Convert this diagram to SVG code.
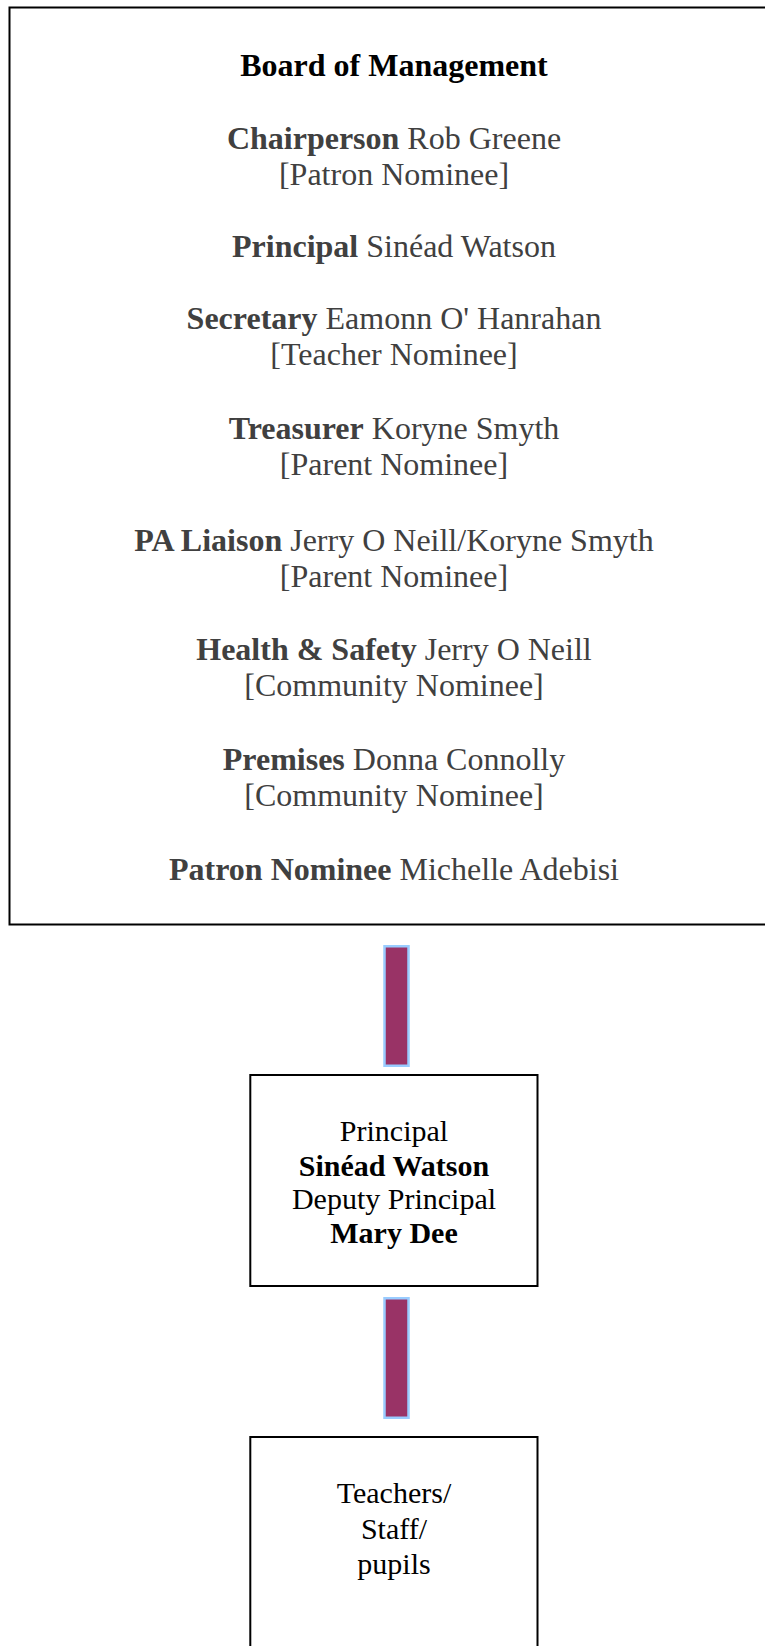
<svg xmlns="http://www.w3.org/2000/svg" width="765" height="1646" viewBox="0 0 765 1646">
<style>
.box{fill:#ffffff;stroke:#000000;stroke-width:2}
.bar{fill:#993366;stroke:#99ccff;stroke-width:2.5}
text{font-family:"Liberation Serif","Times New Roman",serif;font-size:32px;text-anchor:middle}
.s{font-size:30px}
.g{fill:#404040}
.k{fill:#000000}
.b{font-weight:bold}
</style>
<rect width="765" height="1646" fill="#ffffff"/>
<g id="board">
<rect class="box" x="9.5" y="7.5" width="780" height="917"/>
<text class="k b" x="394" y="75.5">Board of Management</text>
<text class="g" x="394" y="148.5"><tspan class="b">Chairperson</tspan> Rob Greene</text>
<text class="g" x="394" y="184.5">[Patron Nominee]</text>
<text class="g" x="394" y="256.5"><tspan class="b">Principal</tspan> Sinéad Watson</text>
<text class="g" x="394" y="329"><tspan class="b">Secretary</tspan> Eamonn O' Hanrahan</text>
<text class="g" x="394" y="365">[Teacher Nominee]</text>
<text class="g" x="394" y="438.5"><tspan class="b">Treasurer</tspan> Koryne Smyth</text>
<text class="g" x="394" y="474.5">[Parent Nominee]</text>
<text class="g" x="394" y="550.5"><tspan class="b">PA Liaison</tspan> Jerry O Neill/Koryne Smyth</text>
<text class="g" x="394" y="586.5">[Parent Nominee]</text>
<text class="g" x="394" y="660"><tspan class="b">Health &amp; Safety</tspan> Jerry O Neill</text>
<text class="g" x="394" y="696">[Community Nominee]</text>
<text class="g" x="394" y="769.5"><tspan class="b">Premises</tspan> Donna Connolly</text>
<text class="g" x="394" y="805.5">[Community Nominee]</text>
<text class="g" x="394" y="879.5"><tspan class="b">Patron Nominee</tspan> Michelle Adebisi</text>
</g>
<g id="connectors">
<rect class="bar" x="384.5" y="946.25" width="24" height="119.5"/>
<rect class="bar" x="384.5" y="1298.25" width="24" height="119.5"/>
</g>
<g id="principal">
<rect class="box" x="250.3" y="1075" width="287.2" height="211"/>
<text class="k s" x="394" y="1141">Principal</text>
<text class="k s b" x="394" y="1175.5">Sinéad Watson</text>
<text class="k s" x="394" y="1209">Deputy Principal</text>
<text class="k s b" x="394" y="1243">Mary Dee</text>
</g>
<g id="staff">
<rect class="box" x="250.3" y="1437" width="287.2" height="240"/>
<text class="k s" x="394" y="1503">Teachers/</text>
<text class="k s" x="394" y="1539">Staff/</text>
<text class="k s" x="394" y="1574">pupils</text>
</g>
</svg>
